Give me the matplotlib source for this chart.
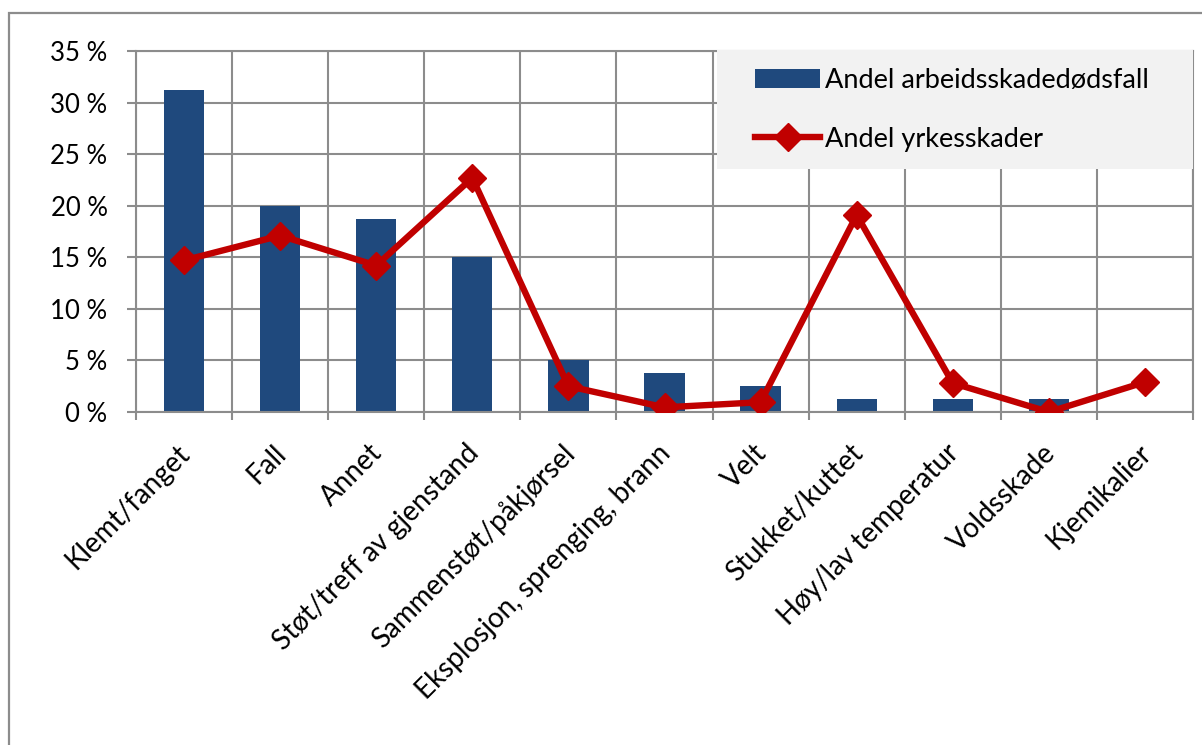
import matplotlib
matplotlib.use("Agg")
import matplotlib.pyplot as plt
from matplotlib.patches import Rectangle
from matplotlib.ticker import FixedLocator, FuncFormatter
import matplotlib.transforms as mtransforms
import numpy as np

categories = [
    "Klemt/fanget", "Fall", "Annet", "Støt/treff av gjenstand",
    "Sammenstøt/påkjørsel", "Eksplosjon, sprenging, brann", "Velt",
    "Stukket/kuttet", "Høy/lav temperatur", "Voldsskade", "Kjemikalier",
]
dodsfall = [0.3125, 0.20, 0.1875, 0.15, 0.05, 0.0375, 0.025, 0.0125, 0.0125, 0.0125, 0.0]
yrkesskader = [0.147, 0.171, 0.142, 0.227, 0.025, 0.0045, 0.0095, 0.191, 0.028, 0.0, 0.029]
series_names = ["Andel arbeidsskadedødsfall", "Andel yrkesskader"]
y_ticks = [0.0, 0.05, 0.10, 0.15, 0.20, 0.25, 0.30, 0.35]

BAR_BLUE = "#1F497D"
LINE_RED = "#C00000"
GRID = "#8C8C8C"

plt.rcParams["font.family"] = ["Lato", "DejaVu Sans"]

W, H = 1202, 745
fig = plt.figure(figsize=(W / 100, H / 100), dpi=100)
ax = fig.add_axes([136 / W, (H - 412) / H, (1193 - 136) / W, (412 - 51) / H])

x = np.arange(len(categories))
bars = ax.bar(x, dodsfall, width=0.42, color=BAR_BLUE, zorder=2,
              label=series_names[0])
line, = ax.plot(x, yrkesskader, color=LINE_RED, lw=4.6, marker="D",
                markersize=14, zorder=3, label=series_names[1],
                solid_joinstyle="miter")

ax.set_xlim(-0.5, len(categories) - 0.5)
ax.set_ylim(0, 0.35)

# y axis
ax.yaxis.set_major_locator(FixedLocator(y_ticks))
ax.yaxis.set_major_formatter(FuncFormatter(lambda v, p: f"{round(v * 100):d} %"))
ax.tick_params(axis="y", which="major", length=6.5, width=1.5, color=GRID,
               pad=14, labelsize=18.5)

# x axis: labels at centres, ticks and gridlines at category borders
ax.set_xticks(x)
ax.set_xticklabels(categories, rotation=45, ha="right", va="top",
                   rotation_mode="anchor", fontsize=20)
ax.tick_params(axis="x", which="major", length=0, pad=20)
ax.set_xticks(np.arange(-0.5, len(categories), 1.0), minor=True)
ax.tick_params(axis="x", which="minor", length=6, width=1.5, color=GRID)
shift = mtransforms.ScaledTranslation(-7 / 100, 0, fig.dpi_scale_trans)
for lbl in ax.get_xticklabels():
    lbl.set_transform(lbl.get_transform() + shift)

ax.grid(True, axis="y", which="major", color=GRID, lw=1.5, zorder=0)
ax.grid(True, axis="x", which="minor", color=GRID, lw=1.5, zorder=0)
ax.set_axisbelow(True)
for side in ["left", "bottom", "top", "right"]:
    ax.spines[side].set_color(GRID)
    ax.spines[side].set_linewidth(1.5)

# chart frame
fig.add_artist(Rectangle((9 / W, -0.2), 2.0, (H - 13) / H + 0.2,
                         transform=fig.transFigure, fill=False,
                         edgecolor=GRID, lw=1.6, zorder=1))

# legend background and entries
fig.add_artist(Rectangle((717 / W, (H - 169) / H), (1193 - 717) / W, 119 / H,
                         transform=fig.transFigure, facecolor="#F2F2F2",
                         edgecolor="none", zorder=4))
leg = fig.legend(handles=[bars, line], labels=series_names,
                 loc="upper left", bbox_to_anchor=(755 / W, (H - 68) / H),
                 frameon=False, fontsize=19.5, handlelength=2.4,
                 handletextpad=0.2, labelspacing=1.25, borderpad=0,
                 borderaxespad=0)
leg.set_zorder(5)

fig.savefig("out.png", dpi=100, facecolor="white")
